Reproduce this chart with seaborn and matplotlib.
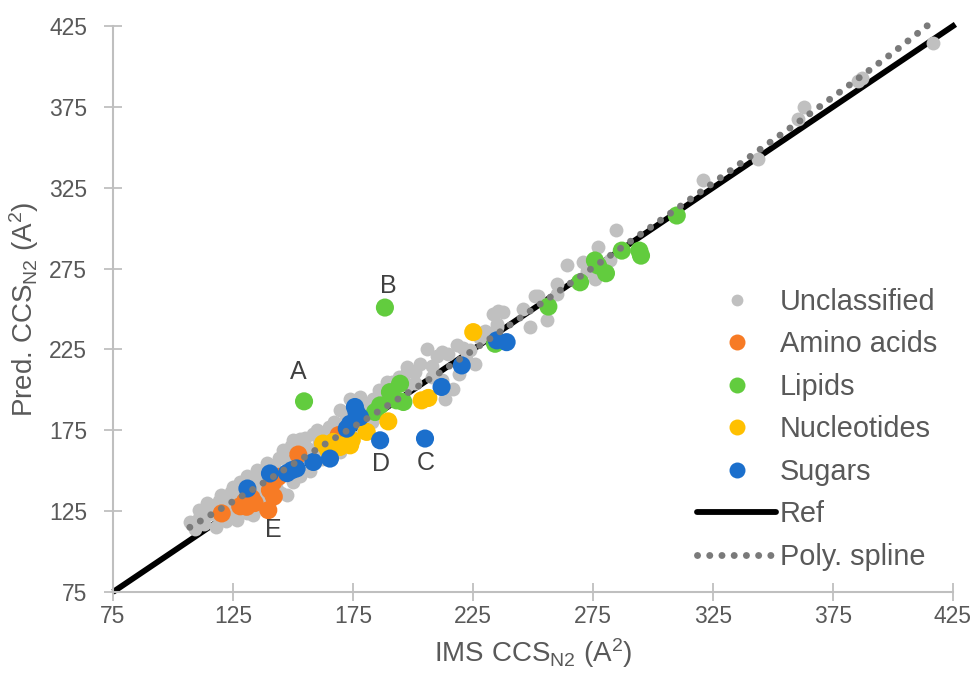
import matplotlib
matplotlib.use("Agg")
import matplotlib.pyplot as plt
from matplotlib.lines import Line2D
import seaborn as sns
import pandas as pd

# ---------------- data ----------------
unclassified_x = [107, 109, 111, 111, 113, 114, 115, 116, 118, 119, 119, 120, 121, 122, 123, 124, 125, 125,
                  126.5, 127, 128, 129, 130, 130.7, 131, 132, 133.5, 133, 134.9, 135, 136, 137, 137, 138, 139,
                  140, 141, 142, 143, 144, 145, 146, 146, 147.4, 148, 149, 150, 150.1, 151, 152, 153, 152.9,
                  154, 155, 156, 157, 158.5, 159, 160, 161, 162, 163, 164, 165, 166, 167, 168, 169.6, 170,
                  169.6, 172, 173.8, 174, 175, 176, 177.9, 178, 179, 180.7, 181, 183.5, 183, 184, 185, 186,
                  188, 189, 191.1, 192, 194, 195.3, 197.4, 197.4, 198, 200.8, 201, 203, 205.7, 207.8, 208,
                  210, 211.9, 212, 213.3, 214.7, 216.8, 218.2, 219, 221, 222, 223.8, 225.8, 228, 230, 233.5,
                  234.9, 235.5, 237.6, 234.9, 246, 248.7, 250.8, 252.2, 255.7, 259.9, 259.9, 264, 270.9,
                  272.3, 275.8, 277.2, 282.1, 284.6, 321, 343.6, 360.5, 363, 385.5, 387.2, 416.5]
unclassified_y = [118, 114, 121, 126, 117, 130, 123, 127, 115, 121, 131, 135, 126, 119, 130, 137, 140, 124,
                  119.4, 133, 143, 128, 137, 147, 124, 141, 122.5, 133, 150.3, 144, 128, 150, 138, 131, 155,
                  145, 132, 152, 140, 158, 136, 163, 148, 134.9, 156, 165, 143, 168.8, 152, 162, 147, 169.9,
                  158, 170, 164, 150, 173, 160, 175, 167, 157, 172, 158.5, 177, 162, 180, 170, 187.3, 176,
                  161.6, 183, 194.6, 172, 188, 180, 195.6, 184, 174, 191.5, 185, 194.6, 180, 190, 187, 200,
                  192, 205, 204.8, 195, 208, 205.9, 211, 214.1, 203, 211, 204, 216, 225.4, 207.9, 215,
                  221, 223.4, 206, 194.6, 222.3, 200.7, 227.5, 210, 226, 219, 224.4, 216.2, 232, 236.7, 247,
                  240.9, 249, 248, 238.8, 250, 239.1, 258.3, 258.3, 243.1, 265.6, 259.5, 276.9, 279,
                  273.8, 268.6, 288.2, 280, 298.9, 329.5, 342.7, 367.4, 375, 391, 393.1, 414.3]

amino_x = [120.3, 128, 130, 132.8, 130.7, 134, 139.7, 140.4, 141.8, 143.9, 142, 152.2, 169]
amino_y = [123.6, 128, 131, 133, 127.7, 130, 125.6, 138, 143, 146.2, 134, 160, 172]

lipid_x = [154.6, 188.3, 184.2, 186.3, 190.4, 193.2, 194.6, 196, 234.2, 256.4, 269.6, 275.8, 277.1,
           280.4, 287, 294.3, 295, 309.9]
lipid_y = [192.9, 250.9, 186.3, 190.4, 198.6, 193.5, 203.8, 192.5, 228.5, 251.5, 266.5, 280, 276.9,
           272.1, 286.1, 286.1, 283, 307.8]

nucleo_x = [162.5, 164.7, 166.8, 169.6, 172.4, 173.8, 174.5, 180.7, 189.7, 203.6, 206.4, 225.1]
nucleo_y = [166.8, 162.6, 167.8, 164.7, 166.8, 165.7, 169, 174, 180.5, 193.5, 195, 235.7]

sugar_x = [131, 140.4, 147.5, 149.5, 151.5, 158.5, 165.4, 172.4, 173.8, 175.8, 176.5, 177.9, 186.3,
           205, 211.9, 220.3, 234.9, 239]
sugar_y = [139, 148.3, 148.5, 150.3, 151.4, 155.4, 157.5, 176, 179, 189.4, 186, 183.2, 168.8,
           169.9, 201.8, 215.1, 230.6, 229.5]

ref_x = [75, 426]
ref_y = [75, 426]

spline_x = [107, 120, 135, 150, 165, 180, 195, 210, 225, 240, 260, 280, 300, 320, 340, 360, 380, 400, 415]
spline_y = [115, 126.5, 140, 154, 168, 181.5, 195.5, 209.5, 224.5, 239.7, 260.2, 280.8, 301.6, 322.6,
            343.8, 365, 386.5, 408.5, 426]

ticks = [75, 125, 175, 225, 275, 325, 375, 425]

categories = ["Amino acids", "Lipids", "Nucleotides", "Sugars"]
colors = {"Unclassified": "#c0c0c0", "Amino acids": "#f77b25", "Lipids": "#62cc3e",
          "Nucleotides": "#ffc000", "Sugars": "#1b6fcc"}

# annotations: letter, point (x, y), offset in pixels (dx, dy upward positive)
letters = ["A", "B", "C", "D", "E"]
letter_pts = [(154.6, 192.9), (188.3, 250.9), (205, 169.9), (186.3, 168.8), (139.7, 125.6)]
letter_off = [(-6, 29), (3, 22), (1, -24), (1, -24), (5, -20)]

# ---------------- plotting ----------------
sns.set_theme(style="white")
plt.rcParams["font.family"] = ["Liberation Sans", "DejaVu Sans"]
plt.rcParams["mathtext.default"] = "regular"

fig = plt.figure(figsize=(9.74, 6.75), dpi=100)
ax = fig.add_axes([113 / 974, 83 / 675, 840 / 974, 566 / 675])

df_unc = pd.DataFrame({"x": unclassified_x, "y": unclassified_y})
rows = []
for cat, xs, ys in [("Amino acids", amino_x, amino_y), ("Lipids", lipid_x, lipid_y),
                    ("Nucleotides", nucleo_x, nucleo_y), ("Sugars", sugar_x, sugar_y)]:
    for a, b in zip(xs, ys):
        rows.append({"x": a, "y": b, "cat": cat})
df_cls = pd.DataFrame(rows)

spline_style = dict(color="#7a7a7a", lw=5.0, linestyle=(0, (0.01, 1.75)), dash_capstyle="round")

ax.plot(ref_x, ref_y, color="black", lw=4.2, zorder=1, clip_on=False, solid_capstyle="butt")
sns.scatterplot(data=df_unc, x="x", y="y", color=colors["Unclassified"], s=100, linewidth=0,
                ax=ax, zorder=2, legend=False)
sns.scatterplot(data=df_cls, x="x", y="y", hue="cat", hue_order=categories,
                palette=[colors[c] for c in categories], s=170, linewidth=0, ax=ax,
                zorder=3, legend=False)
ax.plot(spline_x, spline_y, zorder=4, clip_on=False, **spline_style)

for t, (px, py), (dx, dy) in zip(letters, letter_pts, letter_off):
    ax.annotate(t, xy=(px, py), xytext=(dx * 0.72, dy * 0.72), textcoords="offset points",
                ha="center", va="center", fontsize=18, color="#404040")

ax.set_xlim(75, 425)
ax.set_ylim(75, 425)
ax.set_xticks(ticks)
ax.set_yticks(ticks)
ax.set_xticklabels([str(t) for t in ticks])
ax.set_yticklabels([str(t) for t in ticks])

for side in ["top", "right"]:
    ax.spines[side].set_visible(False)
for side in ["left", "bottom"]:
    ax.spines[side].set_color("#bfbfbf")
    ax.spines[side].set_linewidth(1.5)

ax.tick_params(axis="both", which="major", direction="inout", length=13, width=1.3,
               color="#bfbfbf", labelcolor="#595959", labelsize=16.5,
               bottom=True, left=True, top=False, right=False)
ax.tick_params(axis="x", pad=3)
ax.tick_params(axis="y", pad=12)

ax.set_xlabel("IMS CCS$_{N2}$ (A$^{2}$)", fontsize=20, color="#595959", labelpad=6)
ax.set_ylabel("Pred. CCS$_{N2}$ (A$^{2}$)", fontsize=20, color="#595959", labelpad=6)

handles = [
    Line2D([0], [0], marker="o", color="none", markerfacecolor=colors["Unclassified"],
           markeredgewidth=0, markersize=8.5, label="Unclassified"),
    Line2D([0], [0], marker="o", color="none", markerfacecolor=colors["Amino acids"],
           markeredgewidth=0, markersize=11.5, label="Amino acids"),
    Line2D([0], [0], marker="o", color="none", markerfacecolor=colors["Lipids"],
           markeredgewidth=0, markersize=11.5, label="Lipids"),
    Line2D([0], [0], marker="o", color="none", markerfacecolor=colors["Nucleotides"],
           markeredgewidth=0, markersize=11.5, label="Nucleotides"),
    Line2D([0], [0], marker="o", color="none", markerfacecolor=colors["Sugars"],
           markeredgewidth=0, markersize=11.5, label="Sugars"),
    Line2D([0], [0], color="black", lw=4.2, label="Ref"),
    Line2D([0], [0], label="Poly. spline", **spline_style),
]
leg = ax.legend(handles=handles, loc="upper left", bbox_to_anchor=(697 / 974, 1 - 288 / 675),
                bbox_transform=fig.transFigure, frameon=False, fontsize=20.8,
                handlelength=2.75, handletextpad=0.12, labelspacing=0.5, borderaxespad=0,
                borderpad=0)
for txt in leg.get_texts():
    txt.set_color("#595959")

fig.savefig("out.png", dpi=100, facecolor="white")
